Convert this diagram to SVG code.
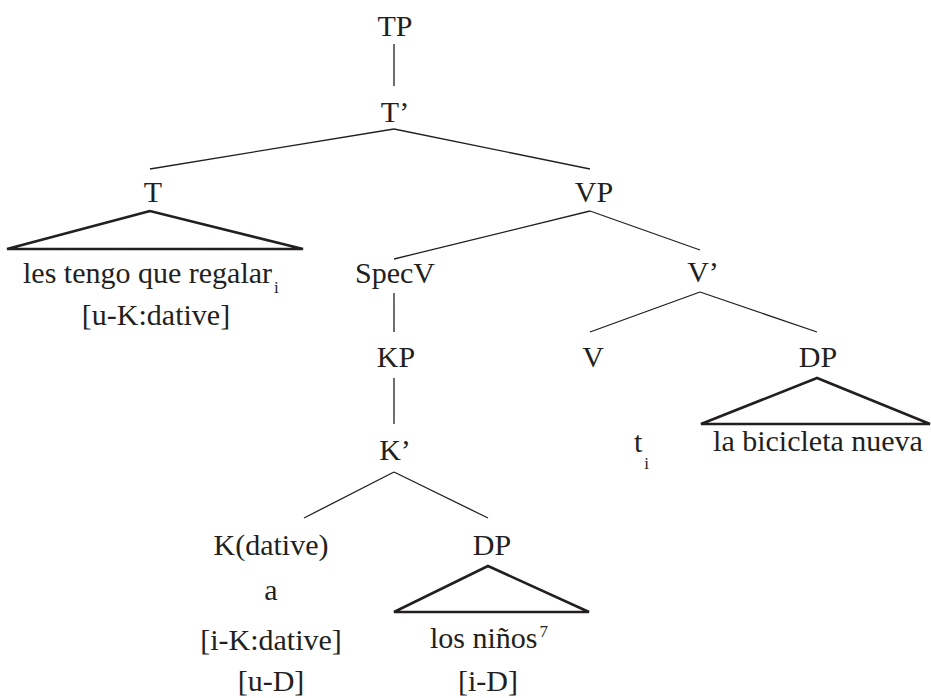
<svg xmlns="http://www.w3.org/2000/svg" width="931" height="698" viewBox="0 0 931 698">
<style>
text{font-family:'Liberation Serif','DejaVu Serif',serif;font-size:30px;fill:#231f20}
.c{text-anchor:middle}
.e{stroke:#231f20;stroke-width:1.3;fill:none}
.tri{stroke:#231f20;stroke-width:2.6;fill:none;stroke-linejoin:miter}
.sub{font-size:17px}
</style>
<rect width="931" height="698" fill="#fff"/>
<g id="connectors">
<line class="e" x1="394" y1="44" x2="394" y2="86"/>
<line class="e" x1="394" y1="129" x2="150" y2="169"/>
<line class="e" x1="394" y1="129" x2="590" y2="169"/>
<line class="e" x1="590" y1="211" x2="394" y2="259"/>
<line class="e" x1="590" y1="211" x2="700" y2="250"/>
<line class="e" x1="700" y1="292" x2="590" y2="332"/>
<line class="e" x1="700" y1="292" x2="817" y2="332"/>
<line class="e" x1="394" y1="293" x2="394" y2="332"/>
<line class="e" x1="394" y1="378" x2="394" y2="424"/>
<line class="e" x1="394" y1="472" x2="304" y2="518"/>
<line class="e" x1="394" y1="472" x2="488" y2="518"/>
</g>
<g font-family="Liberation Serif, serif">
<g id="TP"><text class="c" x="395" y="36">TP</text></g>
<g id="Tbar"><text class="c" x="395" y="122">T’</text></g>
<g id="T">
<text class="c" x="153" y="202">T</text>
<polygon class="tri" points="150,211 7,249 303,249"/>
<text x="23" y="283">les tengo que regalar<tspan class="sub" dx="2" dy="10">i</tspan></text>
<text class="c" x="156" y="325">[u-K:dative]</text>
</g>
<g id="VP"><text class="c" x="594" y="202">VP</text></g>
<g id="SpecV"><text class="c" x="395" y="283">SpecV</text></g>
<g id="Vbar"><text class="c" x="703" y="282">V’</text></g>
<g id="V">
<text class="c" x="593" y="367">V</text>
<text x="634" y="452">t<tspan class="sub" dx="2" dy="17">i</tspan></text>
</g>
<g id="DP-object">
<text class="c" x="818" y="367">DP</text>
<polygon class="tri" points="817,378 701,424 930,424"/>
<text class="c" x="818" y="451">la bicicleta nueva</text>
</g>
<g id="KP"><text class="c" x="396" y="367">KP</text></g>
<g id="Kbar"><text class="c" x="395" y="460">K’</text></g>
<g id="K">
<text class="c" x="271" y="555">K(dative)</text>
<text class="c" x="271" y="600">a</text>
<text class="c" x="271" y="650">[i-K:dative]</text>
<text class="c" x="271" y="691">[u-D]</text>
</g>
<g id="DP-ninos">
<text class="c" x="492" y="555">DP</text>
<polygon class="tri" points="488,566 394,612 589,612"/>
<text x="430" y="648">los niños<tspan class="sub" dx="2" dy="-11">7</tspan></text>
<text class="c" x="488" y="691">[i-D]</text>
</g>
</g>
</svg>
